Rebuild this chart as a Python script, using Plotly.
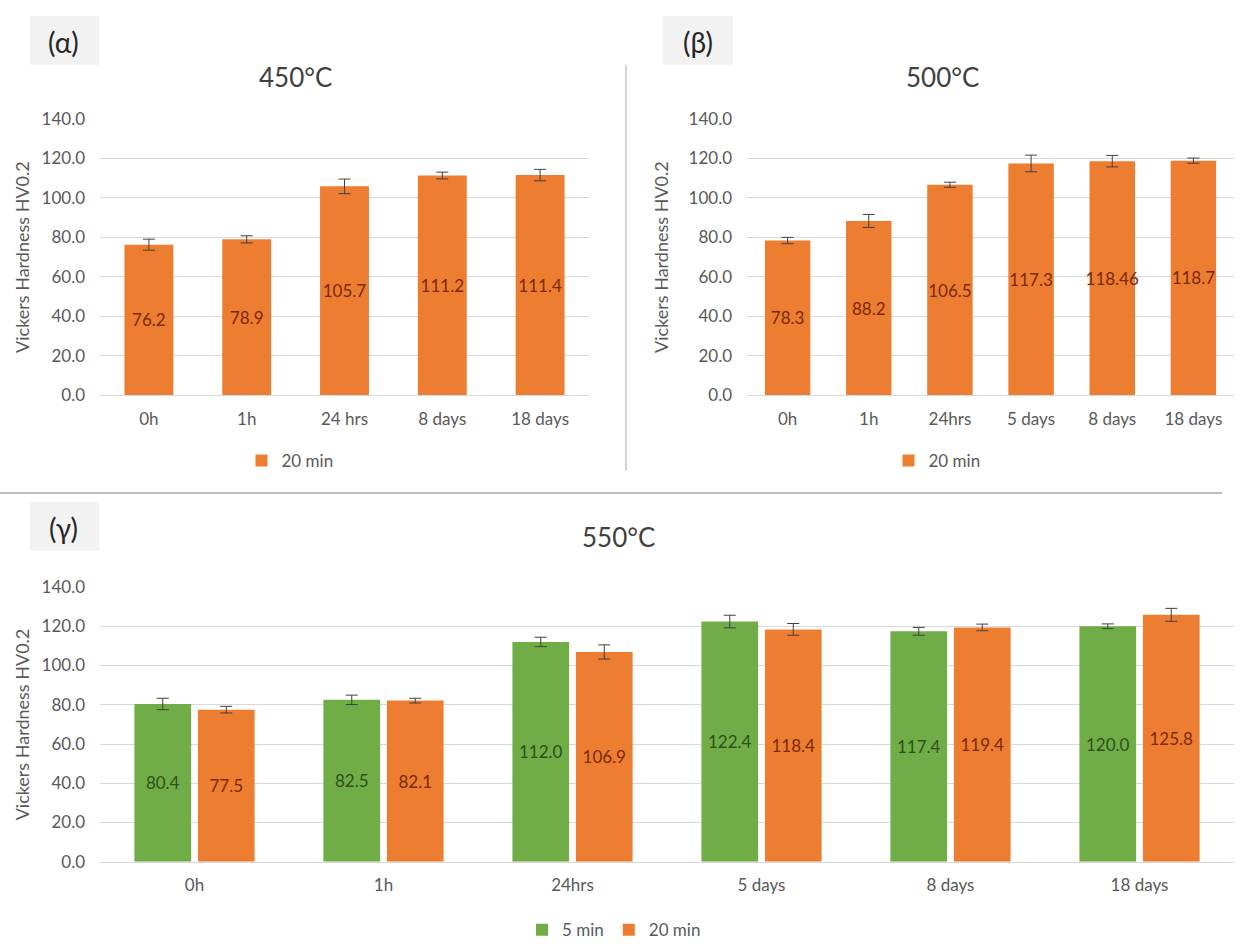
import plotly.graph_objects as go

W, H = 1243, 950
def px(x): return x / W
def py(y): return 1 - y / H

# ---------------- data ----------------
cats_a = ["0h", "1h", "24 hrs", "8 days", "18 days"]
vals_a = [76.2, 78.9, 105.7, 111.2, 111.4]
err_a = [2.8, 1.8, 3.7, 1.7, 2.9]

cats_b = ["0h", "1h", "24hrs", "5 days", "8 days", "18 days"]
vals_b = [78.3, 88.2, 106.5, 117.3, 118.46, 118.7]
err_b = [1.6, 3.3, 1.3, 4.2, 2.9, 1.3]

cats_c = ["0h", "1h", "24hrs", "5 days", "8 days", "18 days"]
vals_c5 = [80.4, 82.5, 112.0, 122.4, 117.4, 120.0]
err_c5 = [2.9, 2.4, 2.4, 3.2, 2.0, 1.2]
vals_c20 = [77.5, 82.1, 106.9, 118.4, 119.4, 125.8]
err_c20 = [1.7, 1.2, 3.6, 3.0, 1.7, 3.3]

y_ticks = [0, 20, 40, 60, 80, 100, 120, 140]
y_ticktext = ["%.1f" % v for v in y_ticks]

series_names = ["5 min", "20 min"]
panel_labels = ["(\u03b1)", "(\u03b2)", "(\u03b3)"]
panel_titles = ["450\u00b0C", "500\u00b0C", "550\u00b0C"]
y_title = "Vickers Hardness HV0.2"

# ---------------- style ----------------
FONT = "Lato"
ORANGE = "#ED7D31"
GREEN = "#70AD47"
ORANGE_TXT = "#7a2a08"
GREEN_TXT = "#2f4f1c"
TICK_COL = "#595959"
GRID = "#d9d9d9"
ERR = dict(type="data", color="#404040", thickness=1, width=6)

fig = go.Figure()

def bar(x, y, err, name, color, tcol, labels, xa, ya, legend, width, offset=None, showlegend=True):
    kw = {}
    if offset is not None:
        kw["offset"] = offset
    fig.add_trace(go.Bar(
        x=x, y=y, name=name, marker=dict(color=color, line=dict(width=0)),
        error_y=dict(array=err, **ERR),
        text=labels, textposition="inside", insidetextanchor="middle",
        textangle=0, constraintext="none",
        textfont=dict(family=FONT, size=17, color=tcol),
        xaxis=xa, yaxis=ya, legend=legend, width=width, showlegend=showlegend,
        hoverinfo="skip", **kw))

bar(cats_a, vals_a, err_a, series_names[1], ORANGE, ORANGE_TXT,
    ["%.1f" % v for v in vals_a], "x", "y", "legend", 0.5)
bar(cats_b, vals_b, err_b, series_names[1], ORANGE, ORANGE_TXT,
    [str(v) for v in vals_b], "x2", "y2", "legend2", 0.56)
bar(cats_c, vals_c5, err_c5, series_names[0], GREEN, GREEN_TXT,
    ["%.1f" % v for v in vals_c5], "x3", "y3", "legend3", 0.30, offset=-0.318)
bar(cats_c, vals_c20, err_c20, series_names[1], ORANGE, ORANGE_TXT,
    ["%.1f" % v for v in vals_c20], "x3", "y3", "legend3", 0.30, offset=0.018)

def xax(domain, n, anchor):
    return dict(domain=domain, anchor=anchor, type="category",
                range=[-0.5, n - 0.5], showgrid=False, zeroline=False,
                showline=True, linecolor=GRID, linewidth=1, ticks="",
                tickfont=dict(family=FONT, size=17, color=TICK_COL),
                ticklabelstandoff=8, fixedrange=True)

def yax(domain, anchor):
    return dict(domain=domain, anchor=anchor, range=[0, 140],
                tickvals=y_ticks, ticktext=y_ticktext, showgrid=True,
                gridcolor=GRID, gridwidth=1, zeroline=False, showline=False,
                ticks="", tickfont=dict(family=FONT, size=17, color=TICK_COL),
                ticklabelstandoff=14, fixedrange=True)

leg = dict(orientation="h", xanchor="center", yanchor="middle",
           font=dict(family=FONT, size=17, color=TICK_COL),
           bgcolor="rgba(0,0,0,0)", itemwidth=30, tracegroupgap=0)

fig.update_layout(
    width=W, height=H, margin=dict(l=0, r=0, t=0, b=0),
    paper_bgcolor="white", plot_bgcolor="white",
    barmode="overlay",
    font=dict(family=FONT, color=TICK_COL),
    xaxis=xax([px(100), px(589)], 5, "y"),
    yaxis=yax([py(393), py(110)], "x"),
    xaxis2=xax([px(747), px(1234)], 6, "y2"),
    yaxis2=yax([py(393), py(110)], "x2"),
    xaxis3=xax([px(100), px(1234)], 6, "y3"),
    yaxis3=yax([py(870), py(589)], "x3"),
    legend=dict(leg, x=px(290), y=py(460)),
    legend2=dict(leg, x=px(937), y=py(460)),
    legend3=dict(leg, x=px(614), y=py(940)),
)

shapes = [
    dict(type="rect", xref="paper", yref="paper", x0=px(30), x1=px(99), y0=py(55), y1=py(5),
         fillcolor="#f2f2f2", line=dict(width=0), layer="below"),
    dict(type="rect", xref="paper", yref="paper", x0=px(663), x1=px(733), y0=py(55), y1=py(5),
         fillcolor="#f2f2f2", line=dict(width=0), layer="below"),
    dict(type="rect", xref="paper", yref="paper", x0=px(30), x1=px(99), y0=py(552), y1=py(502),
         fillcolor="#f2f2f2", line=dict(width=0), layer="below"),
    dict(type="line", xref="paper", yref="paper", x0=px(626), x1=px(626), y0=py(55), y1=py(470),
         line=dict(color="#a6a6a6", width=1)),
    dict(type="line", xref="paper", yref="paper", x0=0, x1=px(1222), y0=py(493), y1=py(493),
         line=dict(color="#a6a6a6", width=1.5)),
]
fig.update_layout(shapes=shapes)

ann = []
for (x, y), t in zip([(64, 32), (698, 32), (64, 529)], panel_labels):
    ann.append(dict(text=t, x=px(x), y=py(y), xref="paper", yref="paper", showarrow=False,
                    xanchor="center", yanchor="middle",
                    font=dict(family=FONT, size=28, color="#262626")))
for (x, y), t in zip([(295, 68), (942, 68), (618, 538)], panel_titles):
    ann.append(dict(text=t, x=px(x), y=py(y), xref="paper", yref="paper", showarrow=False,
                    xanchor="center", yanchor="middle",
                    font=dict(family=FONT, size=26, color="#404040")))
for x, yref in [(22, "y domain"), (661, "y2 domain"), (22, "y3 domain")]:
    ann.append(dict(text=y_title, x=px(x), y=0.5, xref="paper", yref=yref, showarrow=False,
                    xanchor="center", yanchor="middle", textangle=-90,
                    font=dict(family=FONT, size=18, color=TICK_COL)))
fig.update_layout(annotations=ann)

fig.write_html("out.html")
